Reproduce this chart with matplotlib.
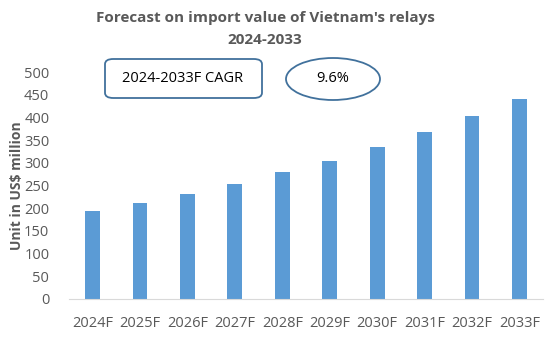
import matplotlib.pyplot as plt
from matplotlib.patches import FancyBboxPatch, Ellipse

plt.rcParams['font.family'] = ['Open Sans', 'DejaVu Sans']

years = ["2024F", "2025F", "2026F", "2027F", "2028F", "2029F", "2030F", "2031F", "2032F", "2033F"]
values = [194, 212, 232, 254, 280, 305, 335, 368, 403, 441]
cagr_label = "2024-2033F CAGR"
cagr_value = "9.6%"

W, H = 550, 344
fig = plt.figure(figsize=(W / 100, H / 100), dpi=100)
ax = fig.add_axes([68.8 / W, 1 - 299 / H, (543.2 - 68.8) / W, (299 - 72) / H])

grey = "#595959"
ax.bar(range(len(years)), values, width=0.31, color="#5B9BD5")
ax.set_xlim(-0.5, len(years) - 0.5)
ax.set_ylim(0, 500)
ax.set_yticks(range(0, 501, 50))
ax.set_xticks(range(len(years)))
ax.set_xticklabels(years)
ax.tick_params(axis="both", length=0, colors=grey, labelsize=10.5)
ax.tick_params(axis="x", pad=12)
ax.tick_params(axis="y", pad=14)
for s in ["top", "right", "left"]:
    ax.spines[s].set_visible(False)
ax.spines["bottom"].set_color("#D9D9D9")
ax.set_ylabel("Unit in US$ million", color=grey, fontsize=10, fontweight="bold", labelpad=0)

fig.text(265 / W, 1 - 18 / H, "Forecast on import value of Vietnam's relays", ha="center", va="center",
         fontsize=11, fontweight="bold", color=grey)
fig.text(265 / W, 1 - 40 / H, "2024-2033", ha="center", va="center",
         fontsize=11, fontweight="bold", color=grey)

# CAGR box and ellipse
edge = "#41719C"
box = FancyBboxPatch((105 / W, 1 - 98 / H), 157 / W, 39 / H,
                     boxstyle="round,pad=0,rounding_size=0.015", transform=fig.transFigure,
                     facecolor="white", edgecolor=edge, linewidth=1.3)
fig.patches.append(box)
fig.text(183 / W, 1 - 79 / H, cagr_label, ha="center", va="center", fontsize=10.5, color="black")
ell = Ellipse((333 / W, 1 - 79 / H), 94 / W, 42 / H, transform=fig.transFigure,
              facecolor="white", edgecolor=edge, linewidth=1.3)
fig.patches.append(ell)
fig.text(333 / W, 1 - 79 / H, cagr_value, ha="center", va="center", fontsize=10.5, color="black")

fig.savefig("out.png", dpi=100)
